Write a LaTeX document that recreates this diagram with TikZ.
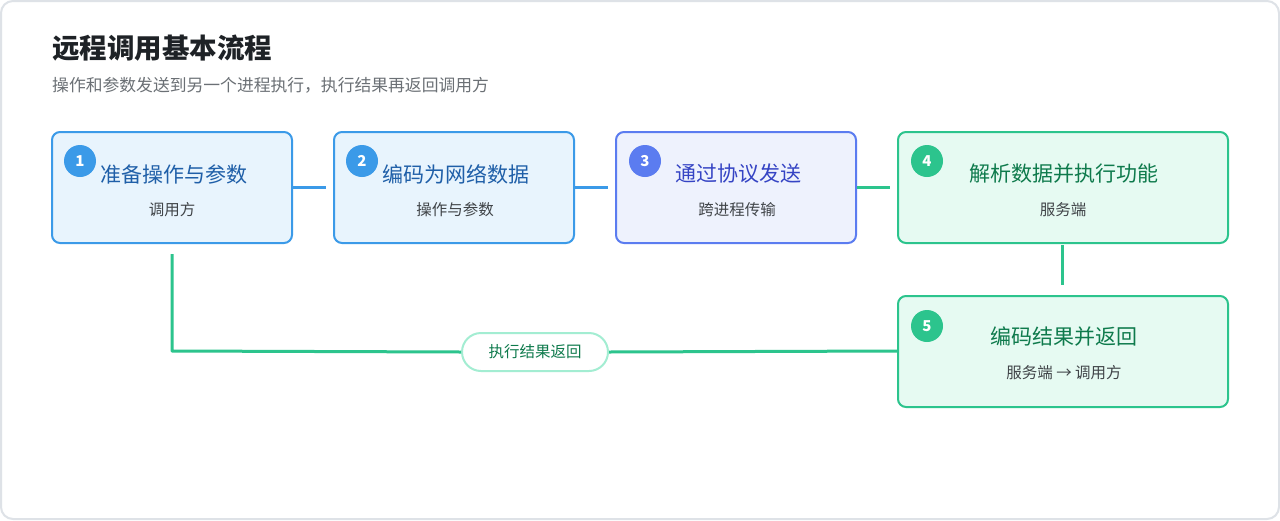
\documentclass[tikz,border=0pt]{standalone}
\usepackage{fontspec}
\setmainfont{Noto Sans CJK SC}
\usetikzlibrary{positioning}
\definecolor{cardborder}{HTML}{DEE2E7}
\definecolor{blueb}{HTML}{3B9AE8}
\definecolor{bluef}{HTML}{E8F4FD}
\definecolor{bluet}{HTML}{1F5FA8}
\definecolor{indb}{HTML}{5B7CF0}
\definecolor{indf}{HTML}{EEF2FD}
\definecolor{indt}{HTML}{3544C4}
\definecolor{grnb}{HTML}{2CC48D}
\definecolor{grnf}{HTML}{E6FAF2}
\definecolor{grnt}{HTML}{0E7A4C}
\definecolor{pillb}{HTML}{A3EDD2}
\definecolor{subc}{HTML}{6B7075}
\definecolor{bodyc}{HTML}{404448}
\definecolor{titlec}{HTML}{1E2226}
\tikzset{
  x=1pt,y=-1pt,
  stepbox/.style={draw, line width=2pt, rounded corners=8pt, inner sep=0pt},
  badge/.style={circle, minimum size=32pt, inner sep=0pt, text=white, font=\fontsize{15}{15}\selectfont\bfseries},
  btitle/.style={font=\fontsize{21}{23}\selectfont, anchor=center, inner sep=0pt},
  bsub/.style={font=\fontsize{15.5}{17}\selectfont, text=bodyc, anchor=center, inner sep=0pt},
  conn/.style={line width=3pt},
}
\begin{document}
\begin{tikzpicture}
\useasboundingbox (0,0) rectangle (1280,520);
\fill[white] (0,0) rectangle (1280,520);
\draw[cardborder, line width=2pt, rounded corners=12pt] (1,1) rectangle (1279,519);

\node[anchor=west, inner sep=0pt, text=titlec, font=\fontsize{27.5}{29}\selectfont\bfseries] (title) at (52,48) {远程调用基本流程};
\node[anchor=west, inner sep=0pt, text=subc, font=\fontsize{16.8}{18}\selectfont] (subtitle) at (52,85) {操作和参数发送到另一个进程执行，执行结果再返回调用方};

% boxes
\path[stepbox, draw=blueb, fill=bluef] (52,132) rectangle (292,243);
\node[minimum width=240pt, minimum height=111pt, inner sep=0pt] (b1) at (172,187.5) {};
\path[stepbox, draw=blueb, fill=bluef] (334,132) rectangle (574,243);
\node[minimum width=240pt, minimum height=111pt, inner sep=0pt] (b2) at (454,187.5) {};
\path[stepbox, draw=indb, fill=indf] (616,132) rectangle (856,243);
\node[minimum width=240pt, minimum height=111pt, inner sep=0pt] (b3) at (736,187.5) {};
\path[stepbox, draw=grnb, fill=grnf] (898,132) rectangle (1228,243);
\node[minimum width=330pt, minimum height=111pt, inner sep=0pt] (b4) at (1063,187.5) {};
\path[stepbox, draw=grnb, fill=grnf] (898,296) rectangle (1228,407);
\node[minimum width=330pt, minimum height=111pt, inner sep=0pt] (b5) at (1063,351.5) {};

% badges
\node[badge, fill=blueb] (n1) at (80,161) {1};
\node[badge, fill=blueb] (n2) at (362,161) {2};
\node[badge, fill=indb] (n3) at (645,161) {3};
\node[badge, fill=grnb] (n4) at (927,161) {4};
\node[badge, fill=grnb] (n5) at (927,326) {5};

% texts
\node[btitle, text=bluet] (t1) at (174,174) {准备操作与参数};
\node[bsub] (s1) at (172,210) {调用方};
\node[btitle, text=bluet] (t2) at (456,174) {编码为网络数据};
\node[bsub] (s2) at (455,210) {操作与参数};
\node[btitle, text=indt] (t3) at (738,174) {通过协议发送};
\node[bsub] (s3) at (737,210) {跨进程传输};
\node[btitle, text=grnt] (t4) at (1064,174) {解析数据并执行功能};
\node[bsub] (s4) at (1063,210) {服务端};
\node[btitle, text=grnt] (t5) at (1064,337) {编码结果并返回};
\node[bsub] (s5) at (1064,373) {服务端 → 调用方};

% connectors
\coordinate (c12a) at (293,187); \coordinate (c12b) at (326,187);
\draw[conn, blueb] (c12a) -- (c12b);
\coordinate (c23a) at (575,187); \coordinate (c23b) at (608,187);
\draw[conn, blueb] (c23a) -- (c23b);
\coordinate (c34a) at (857,187); \coordinate (c34b) at (890,187);
\draw[conn, grnb] (c34a) -- (c34b);
\coordinate (c45a) at (1062,245); \coordinate (c45b) at (1062,285);
\draw[conn, grnb] (c45a) -- (c45b);

\coordinate (r0) at (897,351);
\coordinate (r1) at (172,351);
\coordinate (r2) at (172,254);
\node[draw=pillb, line width=2pt, fill=white, rounded corners=19pt, minimum width=146pt, minimum height=38pt, inner sep=0pt, text=grnt, font=\fontsize{15.5}{17}\selectfont] (pill) at (535,352) {执行结果返回};
\draw[conn, grnb] (r0) -- (pill.east);
\draw[conn, grnb, line join=round] (pill.west) -- (r1) -- (r2);
\end{tikzpicture}
\end{document}
